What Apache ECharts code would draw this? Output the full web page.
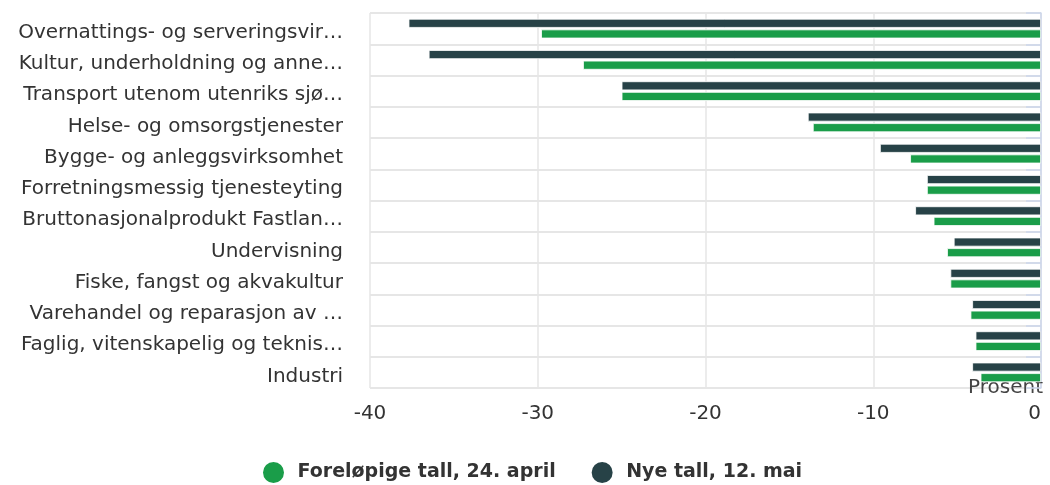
<!DOCTYPE html>
<html>
<head>
<meta charset="utf-8">
<script src="https://cdn.jsdelivr.net/npm/echarts@6/dist/echarts.min.js"></script>
<style>
  html, body { margin: 0; padding: 0; background: #ffffff; }
  #chart { width: 1050px; height: 485px; }
</style>
</head>
<body>
<div id="chart"></div>
<script>
// Næringer, ordnet fra størst til minst fall
const categories = [
  'Overnattings- og serveringsvirksomhet',
  'Kultur, underholdning og annen tjenesteyting',
  'Transport utenom utenriks sjøfart',
  'Helse- og omsorgstjenester',
  'Bygge- og anleggsvirksomhet',
  'Forretningsmessig tjenesteyting',
  'Bruttonasjonalprodukt Fastlands-Norge',
  'Undervisning',
  'Fiske, fangst og akvakultur',
  'Varehandel og reparasjon av motorvogner',
  'Faglig, vitenskapelig og teknisk tjenesteyting',
  'Industri'
];

// Endring i prosent
const forelopige = [-29.8, -27.3, -25.0, -13.6, -7.8, -6.8, -6.4, -5.6, -5.4, -4.2, -3.9, -3.6];
const nye        = [-37.7, -36.5, -25.0, -13.9, -9.6, -6.8, -7.5, -5.2, -5.4, -4.1, -3.9, -4.1];

const seriesNames = ['Foreløpige tall, 24. april', 'Nye tall, 12. mai'];
const xTicks = { min: -40, max: 0, interval: 10 };

const FONT = '"DejaVu Sans", "Liberation Sans", Arial, sans-serif';
const GREEN = '#1a9d49';
const DARK = '#274247';

const chart = echarts.init(document.getElementById('chart'), null, { renderer: 'canvas' });

chart.setOption({
  animation: false,
  textStyle: { fontFamily: FONT },
  grid: { left: 370, right: 9, top: 13, bottom: 97, containLabel: false },
  legend: {
    bottom: 0,
    left: 261,
    padding: 0,
    icon: 'circle',
    itemWidth: 38,
    itemHeight: 23,
    itemGap: 34,
    data: [seriesNames[0], seriesNames[1]],
    textStyle: { fontFamily: FONT, fontSize: 19, fontWeight: 'bold', color: '#333333' }
  },
  xAxis: {
    type: 'value',
    min: xTicks.min,
    max: xTicks.max,
    interval: xTicks.interval,
    name: 'Prosent',
    nameLocation: 'end',
    nameGap: 0,
    nameTextStyle: {
      fontFamily: FONT, fontSize: 20, color: '#444444',
      align: 'right', verticalAlign: 'middle', padding: [0, -2, 2, 0]
    },
    axisLine: { show: false },
    axisTick: { show: false },
    axisLabel: {
      fontFamily: FONT, fontSize: 20, color: '#333333', margin: 16,
      alignMaxLabel: 'right'
    },
    splitLine: { show: true, lineStyle: { color: '#e6e6e6', width: 1.5 } }
  },
  yAxis: {
    type: 'category',
    inverse: true,
    data: categories,
    axisLine: { show: true, lineStyle: { color: '#ccd6eb', width: 1.5 } },
    axisTick: { show: true, length: 15, lineStyle: { color: '#ccd6eb', width: 1.5 } },
    splitLine: { show: true, lineStyle: { color: '#e6e6e6', width: 2 } },
    axisLabel: {
      fontFamily: FONT, fontSize: 20, color: '#333333', margin: 27,
      width: 330, overflow: 'truncate', ellipsis: '…',
      verticalAlign: 'top', lineHeight: 8
    }
  },
  series: [
    {
      name: seriesNames[1],
      type: 'bar',
      data: nye,
      barWidth: 9,
      barGap: '18%',
      itemStyle: { color: DARK, borderColor: '#ffffff', borderWidth: 0.8 }
    },
    {
      name: seriesNames[0],
      type: 'bar',
      data: forelopige,
      barWidth: 9,
      barGap: '18%',
      itemStyle: { color: GREEN, borderColor: '#ffffff', borderWidth: 0.8 }
    }
  ]
});
</script>
</body>
</html>
